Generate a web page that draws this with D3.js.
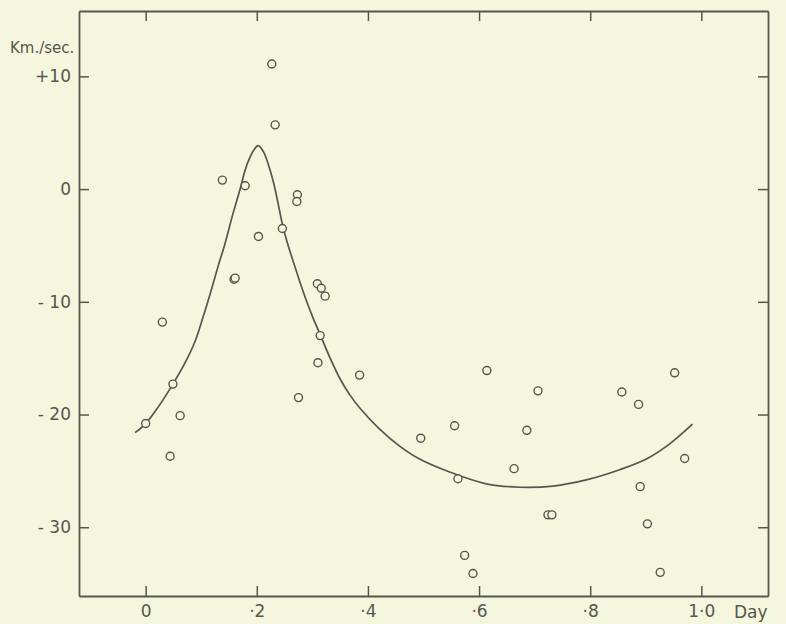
<!DOCTYPE html>
<html>
<head>
<meta charset="utf-8">
<script src="https://cdnjs.cloudflare.com/ajax/libs/d3/7.8.5/d3.min.js"></script>
<style>
  html, body { margin: 0; padding: 0; background: #f4f5dd; }
  svg { display: block; }
</style>
</head>
<body>
<div id="chart"></div>
<script>
// observed radial velocities (phase in days, km/sec)
var obsPhase = [0.000, 0.030, 0.044, 0.049, 0.062, 0.138, 0.159, 0.161, 0.179, 0.203,
                0.227, 0.233, 0.246, 0.273, 0.272, 0.275, 0.309, 0.310, 0.314, 0.316,
                0.323, 0.385, 0.495, 0.556, 0.562, 0.574, 0.589, 0.614, 0.663, 0.686,
                0.706, 0.724, 0.731, 0.857, 0.887, 0.890, 0.903, 0.926, 0.952, 0.970];
var obsVelocity = [-20.8, -11.8, -23.7, -17.3, -20.1, 0.8, -8.0, -7.9, 0.3, -4.2,
                   11.1, 5.7, -3.5, -0.5, -1.1, -18.5, -8.4, -15.4, -13.0, -8.8,
                   -9.5, -16.5, -22.1, -21.0, -25.7, -32.5, -34.1, -16.1, -24.8, -21.4,
                   -17.9, -28.9, -28.9, -18.0, -19.1, -26.4, -29.7, -34.0, -16.3, -23.9];

// the drawn velocity curve
var curvePhase = [-0.019, 0.000, 0.023, 0.049, 0.071, 0.089, 0.103, 0.116, 0.130, 0.143,
                  0.157, 0.170, 0.179, 0.188, 0.195, 0.2025, 0.212, 0.220, 0.230, 0.238,
                  0.246, 0.254, 0.266, 0.278, 0.290, 0.301, 0.314, 0.332, 0.350, 0.368,
                  0.385, 0.421, 0.457, 0.493, 0.547, 0.613, 0.673, 0.733, 0.793, 0.853,
                  0.901, 0.943, 0.984];
var curveVelocity = [-21.6, -20.8, -19.3, -17.3, -15.4, -13.5, -11.4, -9.3, -6.9, -4.8,
                     -2.2, 0.0, 1.7, 2.85, 3.5, 3.85, 3.3, 2.3, 0.6, -1.2,
                     -3.1, -4.6, -6.5, -8.3, -10.0, -11.4, -12.9, -15.0, -16.85, -18.3,
                     -19.4, -21.3, -22.8, -23.95, -25.1, -26.15, -26.45, -26.35, -25.8, -24.9,
                     -23.95, -22.6, -20.85];

var xTicks = [0, 0.2, 0.4, 0.6, 0.8, 1.0];
var xTickLabels = ['0', '·2', '·4', '·6', '·8', '1·0'];
var yTicks = [10, 0, -10, -20, -30];
var yTickLabels = ['+10', '0', '- 10', '- 20', '- 30'];

var attrs = {
    svgWidth: 786,
    svgHeight: 624,
    left: 79,
    right: 768,
    top: 11,
    bottom: 596,
    paper: '#f5f6de',
    ink: '#56574c',
    font: '"DejaVu Sans", sans-serif'
};

var svg = d3.select('#chart')
    .append('svg')
    .attr('width', attrs.svgWidth)
    .attr('height', attrs.svgHeight);

svg.append('rect')
    .attr('width', attrs.svgWidth)
    .attr('height', attrs.svgHeight)
    .attr('fill', attrs.paper);

var xScale = d3.scaleLinear()
    .domain([-0.12, 1.12])
    .range([attrs.left, attrs.right]);

var yScale = d3.scaleLinear()
    .domain([-36.1, 15.8])
    .range([attrs.bottom, attrs.top]);

// axes, ticks pointing into the frame
var xAxis = d3.axisBottom(xScale).tickValues(xTicks).tickSize(-10).tickSizeOuter(0).tickPadding(9)
    .tickFormat(function (d, i) { return xTickLabels[i]; });
var xAxisTop = d3.axisTop(xScale).tickValues(xTicks).tickSize(-10).tickSizeOuter(0).tickFormat('');
var yAxis = d3.axisLeft(yScale).tickValues(yTicks).tickSize(-10).tickSizeOuter(0).tickPadding(8)
    .tickFormat(function (d, i) { return yTickLabels[i]; });
var yAxisRight = d3.axisRight(yScale).tickValues(yTicks).tickSize(-10).tickSizeOuter(0).tickFormat('');

svg.append('g').attr('class', 'axis').attr('transform', 'translate(0,' + attrs.bottom + ')').call(xAxis);
svg.append('g').attr('class', 'axis').attr('transform', 'translate(0,' + attrs.top + ')').call(xAxisTop);
svg.append('g').attr('class', 'axis').attr('transform', 'translate(' + attrs.left + ',0)').call(yAxis);
svg.append('g').attr('class', 'axis').attr('transform', 'translate(' + attrs.right + ',0)').call(yAxisRight);

svg.selectAll('.axis .domain')
    .attr('stroke', attrs.ink)
    .attr('stroke-width', 1.8);
svg.selectAll('.axis .tick line')
    .attr('stroke', attrs.ink)
    .attr('stroke-width', 1.5);
svg.selectAll('.axis .tick text')
    .attr('fill', attrs.ink)
    .style('font-family', attrs.font)
    .style('font-size', '17px');

// units
svg.append('text')
    .attr('x', 10)
    .attr('y', 53)
    .attr('fill', attrs.ink)
    .style('font-family', attrs.font)
    .style('font-size', '15px')
    .text('Km./sec.');

svg.append('text')
    .attr('x', 734)
    .attr('y', 618)
    .attr('fill', attrs.ink)
    .style('font-family', attrs.font)
    .style('font-size', '17px')
    .text('Day');

// fitted curve
var curveData = curvePhase.map(function (p, i) { return { phase: p, v: curveVelocity[i] }; });
var line = d3.line()
    .curve(d3.curveCatmullRom.alpha(0.5))
    .x(function (d) { return xScale(d.phase); })
    .y(function (d) { return yScale(d.v); });

svg.append('path')
    .datum(curveData)
    .attr('d', line)
    .attr('fill', 'none')
    .attr('stroke', attrs.ink)
    .attr('stroke-width', 1.7);

// observations - filled with paper colour so the curve breaks at them
var obsData = obsPhase.map(function (p, i) { return { phase: p, v: obsVelocity[i] }; });
svg.selectAll('.obs')
    .data(obsData)
    .enter()
    .append('circle')
    .attr('class', 'obs')
    .attr('cx', function (d) { return xScale(d.phase); })
    .attr('cy', function (d) { return yScale(d.v); })
    .attr('r', 4)
    .attr('fill', attrs.paper)
    .attr('stroke', attrs.ink)
    .attr('stroke-width', 1.4);
</script>
</body>
</html>
